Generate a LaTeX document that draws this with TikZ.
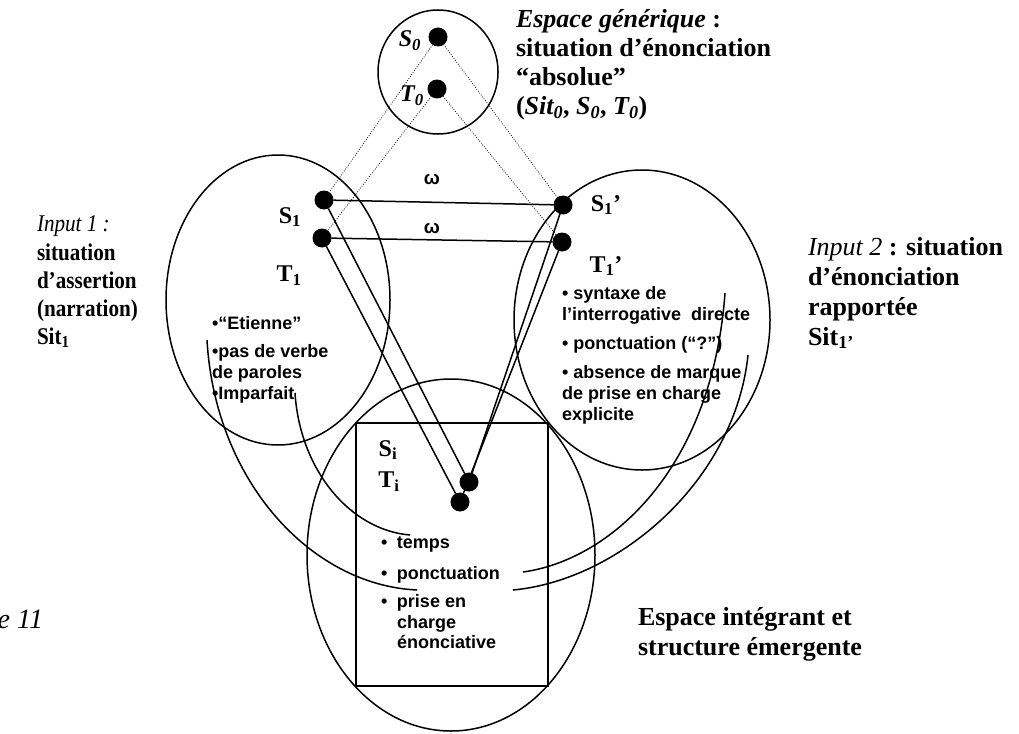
\documentclass[tikz,border=0pt]{standalone}
\usepackage{graphicx}
\usepackage{fontspec}
\setmainfont{Liberation Serif}
\setsansfont{Liberation Sans}
% condensed lines of the first input caption
\newcommand\narrowtext[1]{\scalebox{0.88}[1]{#1}}
\begin{document}
\begin{tikzpicture}[x=1pt,y=-1pt,
  every node/.style={inner sep=0pt, outer sep=0pt},
  dot/.style={circle, fill=black, minimum size=19pt},
  zone/.style={line width=1.5pt},
  frame/.style={line width=1.8pt},
  link/.style={line width=1.5pt},
  proj/.style={line width=0.8pt, dash pattern=on 0.8pt off 1.6pt},
  selcurve/.style={line width=1.5pt},
  title/.style={anchor=base west, font=\fontsize{26}{30}\selectfont\bfseries},
  titlel/.style={anchor=base west, font=\fontsize{24}{28}\selectfont\bfseries},
  point/.style={font=\fontsize{24}{28}\selectfont\bfseries},
  item/.style={anchor=base west, font=\fontsize{18}{20.5}\selectfont\sffamily\bfseries}]
\useasboundingbox (0,0) rectangle (1019,733);

% mental spaces
\draw[zone] (438,72) ellipse [x radius=60pt, y radius=62pt];
\draw[zone] (278,300) ellipse [x radius=112pt, y radius=145pt];
\draw[zone] (642,320) ellipse [x radius=128pt, y radius=150pt];
\draw[zone] (451,555) ellipse [x radius=144pt, y radius=176pt];
\draw[frame] (356,423) rectangle (548,686);

% elements of the spaces
\node[dot] (S0) at (438,37) {};
\node[dot] (T0) at (437,89) {};
\node[dot] (S1) at (324,200) {};
\node[dot] (T1) at (322,238) {};
\node[dot] (S1p) at (563,205) {};
\node[dot] (T1p) at (562,242) {};
\node[dot] (Si) at (469,482) {};
\node[dot] (Ti) at (460,502) {};

% generic-space projections
\draw[proj] (S0) -- (S1);
\draw[proj] (S0) -- (S1p);
\draw[proj] (T0) -- (T1);
\draw[proj] (T0) -- (T1p);

% cross-space mappings and projections to the blend
\draw[link] (S1) -- (S1p);
\draw[link] (T1) -- (T1p);
\draw[link] (S1) -- (Si);
\draw[link] (T1) -- (Ti);
\draw[link] (S1p) -- (Si);
\draw[link] (T1p) -- (Ti);

\node[font=\fontsize{19}{20}\selectfont\sffamily\bfseries] (w1) at (432,179) {ω};
\node[font=\fontsize{19}{20}\selectfont\sffamily\bfseries] (w2) at (432,228) {ω};

% element labels
\node[point, font=\fontsize{24}{28}\selectfont\bfseries\itshape] (S0l) at (410,41) {S\textsubscript{0}};
\node[point, font=\fontsize{24}{28}\selectfont\bfseries\itshape] (T0l) at (412,96) {T\textsubscript{0}};
\node[point] (S1l) at (290,217) {S\textsubscript{1}};
\node[point] (T1l) at (289,276) {T\textsubscript{1}};
\node[point] (S1pl) at (606,205) {S\textsubscript{1}’};
\node[point] (T1pl) at (606,266) {T\textsubscript{1}’};
\node[point] (Sil) at (388,450) {S\textsubscript{i}};
\node[point] (Til) at (389,482) {T\textsubscript{i}};

% generic space caption
\node[title] (g1) at (516,28) {\textit{Espace générique} :};
\node[title] (g2) at (516,57) {situation d’énonciation};
\node[title] (g3) at (516,86) {“absolue”};
\node[title] (g4) at (516,115) {(\textit{Sit\textsubscript{0}}, \textit{S\textsubscript{0}}, \textit{T\textsubscript{0}})};

% input 1 caption
\node[titlel] (a1) at (37,231) {\narrowtext{\mdseries\itshape Input 1 :}};
\node[titlel] (a2) at (37,260) {\narrowtext{situation}};
\node[titlel] (a3) at (37,288) {\narrowtext{d’assertion}};
\node[titlel] (a4) at (37,316) {\narrowtext{(narration)}};
\node[titlel] (a5) at (37,344) {\narrowtext{Sit\textsubscript{1}}};

% input 2 caption
\node[title] (b1) at (808,255) {{\mdseries\itshape Input 2} : situation};
\node[title] (b2) at (808,285) {d’énonciation};
\node[title] (b3) at (808,315) {rapportée};
\node[title] (b4) at (808,345) {Sit\textsubscript{1’}};

% blended space caption
\node[title] (c1) at (638,625) {Espace intégrant et};
\node[title] (c2) at (638,655) {structure émergente};

\node[anchor=base east, font=\fontsize{28}{32}\selectfont\itshape] (fig) at (43,628) {e 11};

% input 1 content
\node[item] (e1) at (212,329) {•“Etienne”};
\node[item] (e2) at (212,357) {•pas de verbe};
\node[item] (e3) at (212,378) {de paroles};
\node[item] (e4) at (212,399) {•Imparfait};

% input 2 content
\node[item] (f1) at (562,299) {• syntaxe de};
\node[item] (f2) at (562,320) {l’interrogative~ directe};
\node[item] (f3) at (562,349) {• ponctuation (“?”)};
\node[item] (f4) at (562,378) {• absence de marque};
\node[item] (f5) at (562,399) {de prise en charge};
\node[item] (f6) at (562,420) {explicite};

% blend content
\node[item] (h1) at (381,548) {\makebox[16pt][l]{•}temps};
\node[item] (h2) at (381,579) {\makebox[16pt][l]{•}ponctuation};
\node[item] (h3) at (381,607) {\makebox[16pt][l]{•}prise en};
\node[item] (h4) at (397,628) {charge};
\node[item] (h5) at (397,648) {énonciative};

% selective projection curves
\coordinate (p1) at (295,393);
\coordinate (q1) at (410,535);
\coordinate (p2) at (207,340);
\coordinate (q2) at (417,590);
\coordinate (p3) at (725,293);
\coordinate (q3) at (523,572);
\coordinate (p4) at (748,355);
\coordinate (q4) at (513,590);
\draw[selcurve] (p1) .. controls (300,470) and (350,530) .. (q1);
\draw[selcurve] (p2) .. controls (215,480) and (310,585) .. (q2);
\draw[selcurve] (p3) .. controls (712,470) and (610,560) .. (q3);
\draw[selcurve] (p4) .. controls (735,480) and (620,580) .. (q4);
\end{tikzpicture}
\end{document}
